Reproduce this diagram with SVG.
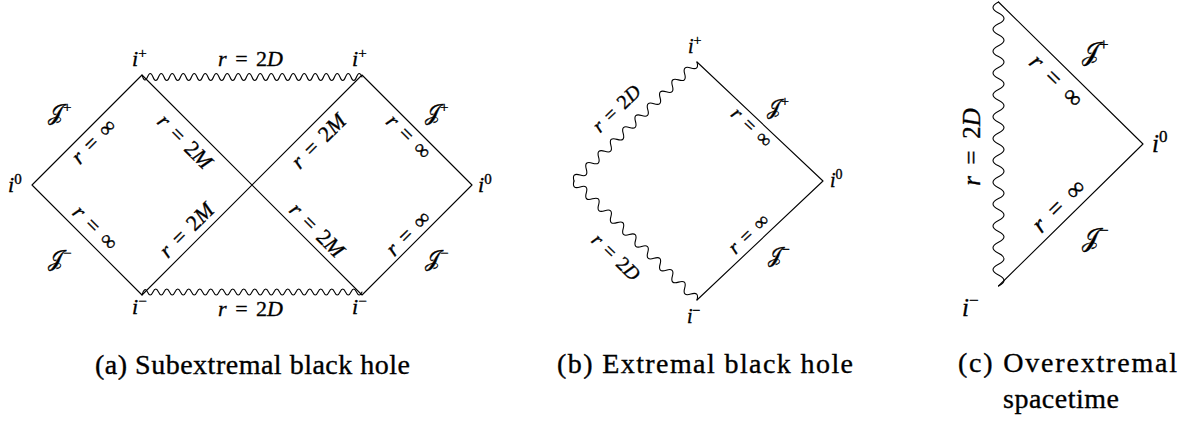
<svg xmlns="http://www.w3.org/2000/svg" width="1181" height="424" viewBox="0 0 1181 424">
<style>
.ln{fill:none;stroke:#000;stroke-width:1.1;stroke-linejoin:round;stroke-linecap:round}
.it{font-style:italic}
text{stroke:#000;stroke-width:0.35px}
</style>
<rect width="1181" height="424" fill="#fff"/>
<g id="connectors">
<g id="panel-a-lines">
<path class="ln" d="M32,185 L142,75 L362,295 L472,185 L362,75 L142,295 Z"/>
<path class="ln" d="M142,75 q2.75,9 5.5,2 t5.5,0 t5.5,0 t5.5,0 t5.5,0 t5.5,0 t5.5,0 t5.5,0 t5.5,0 t5.5,0 t5.5,0 t5.5,0 t5.5,0 t5.5,0 t5.5,0 t5.5,0 t5.5,0 t5.5,0 t5.5,0 t5.5,0 t5.5,0 t5.5,0 t5.5,0 t5.5,0 t5.5,0 t5.5,0 t5.5,0 t5.5,0 t5.5,0 t5.5,0 t5.5,0 t5.5,0 t5.5,0 t5.5,0 t5.5,0 t5.5,0 t5.5,0 t5.5,0 t5.5,0 t5.5,0"/>
<path class="ln" d="M142,295 q2.75,-9 5.5,-3 t5.5,0 t5.5,0 t5.5,0 t5.5,0 t5.5,0 t5.5,0 t5.5,0 t5.5,0 t5.5,0 t5.5,0 t5.5,0 t5.5,0 t5.5,0 t5.5,0 t5.5,0 t5.5,0 t5.5,0 t5.5,0 t5.5,0 t5.5,0 t5.5,0 t5.5,0 t5.5,0 t5.5,0 t5.5,0 t5.5,0 t5.5,0 t5.5,0 t5.5,0 t5.5,0 t5.5,0 t5.5,0 t5.5,0 t5.5,0 t5.5,0 t5.5,0 t5.5,0 t5.5,0 t5.5,0"/>
</g>
<g id="panel-b-lines">
<path class="ln" d="M697,62 L823,181 L697,300"/>
<path class="ln" transform="translate(574,181) rotate(-44.05)" d="M0,0 q4.278,-8 8.555,0 t8.555,0 t8.555,0 t8.555,0 t8.555,0 t8.555,0 t8.555,0 t8.555,0 t8.555,0 t8.555,0 t8.555,0 t8.555,0 t8.555,0 t8.555,0 t8.555,0 t8.555,0 t8.555,0 t8.555,0 t8.555,0 t8.555,0"/>
<path class="ln" transform="translate(574,181) rotate(44.05)" d="M0,0 q4.278,8 8.555,0 t8.555,0 t8.555,0 t8.555,0 t8.555,0 t8.555,0 t8.555,0 t8.555,0 t8.555,0 t8.555,0 t8.555,0 t8.555,0 t8.555,0 t8.555,0 t8.555,0 t8.555,0 t8.555,0 t8.555,0 t8.555,0 t8.555,0"/>
</g>
<g id="panel-c-lines">
<path class="ln" d="M998.5,2 L1143,144 L998.5,286"/>
<path class="ln" transform="translate(998.5,2) rotate(90)" d="M0,0 q5.46,11 10.923,0 t10.923,0 t10.923,0 t10.923,0 t10.923,0 t10.923,0 t10.923,0 t10.923,0 t10.923,0 t10.923,0 t10.923,0 t10.923,0 t10.923,0 t10.923,0 t10.923,0 t10.923,0 t10.923,0 t10.923,0 t10.923,0 t10.923,0 t10.923,0 t10.923,0 t10.923,0 t10.923,0 t10.923,0 t10.923,0"/>
</g>
</g>
<g id="panel-a-labels" font-family="Liberation Serif, DejaVu Serif, serif" font-size="22" fill="#000">
<text x="132" y="66"><tspan class="it">i</tspan><tspan dy="-8" font-size="15">+</tspan></text>
<text x="352" y="66"><tspan class="it">i</tspan><tspan dy="-8" font-size="15">+</tspan></text>
<text x="250.5" y="66" text-anchor="middle"><tspan class="it">r</tspan><tspan dx="8.5">=</tspan><tspan dx="8.5">2</tspan><tspan class="it">D</tspan></text>
<text x="8" y="192"><tspan class="it">i</tspan><tspan dy="-8" font-size="15">0</tspan></text>
<text x="478" y="192"><tspan class="it">i</tspan><tspan dy="-8" font-size="15">0</tspan></text>
<text x="48" y="120">𝒥<tspan dy="-8" font-size="15">+</tspan></text>
<text x="48" y="266">𝒥<tspan dy="-8" font-size="15">−</tspan></text>
<text x="425" y="120">𝒥<tspan dy="-8" font-size="15">+</tspan></text>
<text x="425" y="266">𝒥<tspan dy="-8" font-size="15">−</tspan></text>
<text x="132" y="314"><tspan class="it">i</tspan><tspan dy="-8" font-size="15">−</tspan></text>
<text x="352" y="314"><tspan class="it">i</tspan><tspan dy="-8" font-size="15">−</tspan></text>
<text x="250.5" y="316" text-anchor="middle"><tspan class="it">r</tspan><tspan dx="8.5">=</tspan><tspan dx="8.5">2</tspan><tspan class="it">D</tspan></text>
<text transform="translate(94,141.5) rotate(-45)" dy="0.3em" text-anchor="middle"><tspan class="it">r</tspan><tspan dx="8.5">=</tspan><tspan dx="8.5">∞</tspan></text>
<text transform="translate(185,141.5) rotate(45)" dy="0.33em" text-anchor="middle"><tspan class="it">r</tspan><tspan dx="8.5">=</tspan><tspan dx="8.5">2</tspan><tspan class="it">M</tspan></text>
<text transform="translate(95,228) rotate(45)" dy="0.3em" text-anchor="middle"><tspan class="it">r</tspan><tspan dx="8.5">=</tspan><tspan dx="8.5">∞</tspan></text>
<text transform="translate(186.5,230) rotate(-45)" dy="0.33em" text-anchor="middle"><tspan class="it">r</tspan><tspan dx="8.5">=</tspan><tspan dx="8.5">2</tspan><tspan class="it">M</tspan></text>
<text transform="translate(318.5,141) rotate(-45)" dy="0.33em" text-anchor="middle"><tspan class="it">r</tspan><tspan dx="8.5">=</tspan><tspan dx="8.5">2</tspan><tspan class="it">M</tspan></text>
<text transform="translate(408.5,137) rotate(45)" dy="0.3em" text-anchor="middle"><tspan class="it">r</tspan><tspan dx="8.5">=</tspan><tspan dx="8.5">∞</tspan></text>
<text transform="translate(317,230) rotate(45)" dy="0.33em" text-anchor="middle"><tspan class="it">r</tspan><tspan dx="8.5">=</tspan><tspan dx="8.5">2</tspan><tspan class="it">M</tspan></text>
<text transform="translate(408.5,233.5) rotate(-45)" dy="0.3em" text-anchor="middle"><tspan class="it">r</tspan><tspan dx="8.5">=</tspan><tspan dx="8.5">∞</tspan></text>
</g>
<g id="panel-b-labels" font-family="Liberation Serif, DejaVu Serif, serif" font-size="20" fill="#000">
<text x="688" y="53"><tspan class="it">i</tspan><tspan dy="-8" font-size="14">+</tspan></text>
<text x="830" y="187"><tspan class="it">i</tspan><tspan dy="-8" font-size="14">0</tspan></text>
<text x="687" y="323"><tspan class="it">i</tspan><tspan dy="-8" font-size="14">−</tspan></text>
<text x="767" y="114">𝒥<tspan dy="-8" font-size="14">+</tspan></text>
<text x="768" y="262">𝒥<tspan dy="-8" font-size="14">−</tspan></text>
<text transform="translate(616.5,108.5) rotate(-44)" dy="0.33em" text-anchor="middle"><tspan class="it">r</tspan><tspan dx="7.5">=</tspan><tspan dx="7.5">2</tspan><tspan class="it">D</tspan></text>
<text transform="translate(616,257) rotate(44)" dy="0.33em" text-anchor="middle"><tspan class="it">r</tspan><tspan dx="7.5">=</tspan><tspan dx="7.5">2</tspan><tspan class="it">D</tspan></text>
<text transform="translate(751.5,127.5) rotate(43.4)" dy="0.3em" text-anchor="middle"><tspan class="it">r</tspan><tspan dx="7.5">=</tspan><tspan dx="7.5">∞</tspan></text>
<text transform="translate(749,234) rotate(-43.4)" dy="0.3em" text-anchor="middle"><tspan class="it">r</tspan><tspan dx="7.5">=</tspan><tspan dx="7.5">∞</tspan></text>
</g>
<g id="panel-c-labels" font-family="Liberation Serif, DejaVu Serif, serif" font-size="25" fill="#000">
<text transform="translate(971.5,147) rotate(-90)" dy="0.33em" text-anchor="middle"><tspan class="it">r</tspan><tspan dx="11.5">=</tspan><tspan dx="11.5">2</tspan><tspan class="it">D</tspan></text>
<text x="1082" y="60">𝒥<tspan dy="-10" font-size="17">+</tspan></text>
<text x="1082" y="246">𝒥<tspan dy="-10" font-size="17">−</tspan></text>
<text x="1152" y="152"><tspan class="it">i</tspan><tspan dy="-10" font-size="17">0</tspan></text>
<text x="962" y="316"><tspan class="it">i</tspan><tspan dy="-10" font-size="17">−</tspan></text>
<text transform="translate(1056,81) rotate(44.4)" dy="0.3em" text-anchor="middle"><tspan class="it">r</tspan><tspan dx="11.5">=</tspan><tspan dx="11.5">∞</tspan></text>
<text transform="translate(1059,206) rotate(-44.4)" dy="0.3em" text-anchor="middle"><tspan class="it">r</tspan><tspan dx="11.5">=</tspan><tspan dx="11.5">∞</tspan></text>
</g>
<g id="captions" font-family="Liberation Serif, serif" font-size="28" fill="#000">
<text x="95" y="374" textLength="315" lengthAdjust="spacing">(a) Subextremal black hole</text>
<text x="557" y="373" textLength="296" lengthAdjust="spacing">(b) Extremal black hole</text>
<text x="958" y="372" textLength="219" lengthAdjust="spacing">(c) Overextremal</text>
<text x="1003" y="408" textLength="116" lengthAdjust="spacing">spacetime</text>
</g>
</svg>
